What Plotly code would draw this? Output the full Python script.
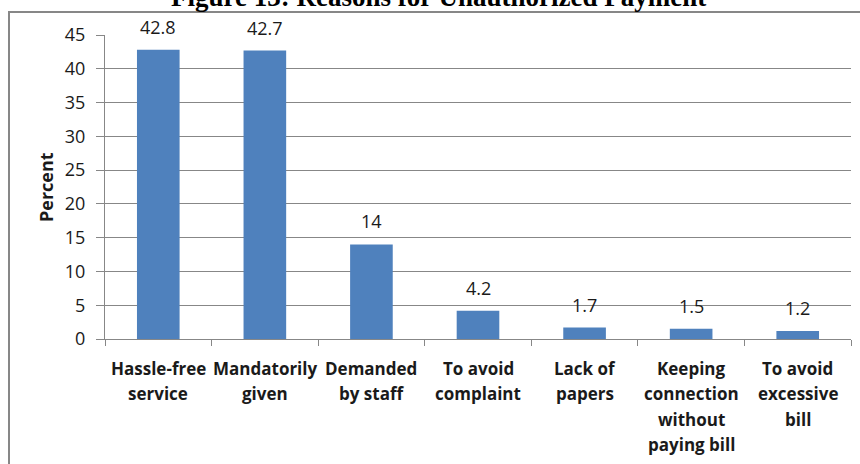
import plotly.graph_objects as go

categories = ["Hassle-free service", "Mandatorily given", "Demanded by staff",
              "To avoid complaint", "Lack of papers",
              "Keeping connection without paying bill", "To avoid excessive bill"]
tick_labels = ["Hassle-free<br>service", "Mandatorily<br>given", "Demanded<br>by staff",
               "To avoid<br>complaint", "Lack of<br>papers",
               "Keeping<br>connection<br>without<br>paying bill", "To avoid<br>excessive<br>bill"]
values = [42.8, 42.7, 14, 4.2, 1.7, 1.5, 1.2]
value_labels = ["42.8", "42.7", "14", "4.2", "1.7", "1.5", "1.2"]
y_ticks = [0, 5, 10, 15, 20, 25, 30, 35, 40, 45]

W, H = 860, 464
ML, MR, MT, MB = 105, 9, 35, 125
PW = W - ML - MR
PH = H - MT - MB

def px_x(px):
    return (px - ML) / PW

def px_y(py):
    return (H - MB - py) / PH

FONT = "Open Sans"
GRAY = "#878787"
TXT = "#1a1a1a"
LINE_GAP = 25.5

fig = go.Figure()
fig.add_trace(go.Bar(
    x=categories, y=values,
    marker=dict(color="#4F81BD", line=dict(width=0)),
    hoverinfo="skip",
))

annotations = []
for c, v, t in zip(categories, values, value_labels):
    annotations.append(dict(
        x=c, y=v, xref="x", yref="y", text=t, showarrow=False,
        yanchor="bottom", xanchor="center", yshift=9,
        font=dict(family=FONT, size=18, color=TXT),
    ))

# category labels, one annotation per line for Excel-like line spacing
for c, lab in zip(categories, tick_labels):
    for i, line in enumerate(lab.split("<br>")):
        annotations.append(dict(
            x=c, y=0, xref="x", yref="y", text="<b>" + line + "</b>",
            showarrow=False, xanchor="center", yanchor="top",
            yshift=-(15.5 + i * LINE_GAP),
            font=dict(family=FONT, size=17, color=TXT),
        ))

annotations.append(dict(
    x=px_x(46), y=0.5, xref="paper", yref="paper", text="<b>Percent</b>",
    showarrow=False, textangle=-90, xanchor="center", yanchor="middle",
    font=dict(family=FONT, size=18, color=TXT),
))

annotations.append(dict(
    x=px_x(438), y=px_y(-3), xref="paper", yref="paper",
    text="<b>Figure 13: Reasons for Unauthorized Payment</b>",
    showarrow=False, xanchor="center", yanchor="middle",
    font=dict(family="Liberation Serif", size=27, color="#000000"),
))

shapes = [dict(
    type="rect", xref="paper", yref="paper",
    x0=px_x(9), x1=px_x(900), y0=px_y(12), y1=px_y(520),
    line=dict(color=GRAY, width=2), fillcolor="rgba(0,0,0,0)", layer="below",
)]

fig.update_layout(
    width=W, height=H,
    margin=dict(l=ML, r=MR, t=MT, b=MB, pad=0, autoexpand=False),
    paper_bgcolor="white", plot_bgcolor="white",
    bargap=0.6,
    showlegend=False,
    annotations=annotations,
    shapes=shapes,
    xaxis=dict(
        tickmode="array", tickvals=categories, showticklabels=False,
        tickson="boundaries", ticks="outside", ticklen=6, tickcolor=GRAY,
        showline=True, linecolor=GRAY, linewidth=1,
        showgrid=False, automargin=False,
    ),
    yaxis=dict(
        range=[0, 45], tickvals=y_ticks,
        ticks="outside", ticklen=8, tickcolor=GRAY,
        showline=True, linecolor=GRAY, linewidth=1,
        showgrid=True, gridcolor=GRAY, gridwidth=1,
        zeroline=False, automargin=False,
        tickfont=dict(family=FONT, size=18, color=TXT),
        ticklabelstandoff=7,
    ),
)

fig.write_html("out.html")
